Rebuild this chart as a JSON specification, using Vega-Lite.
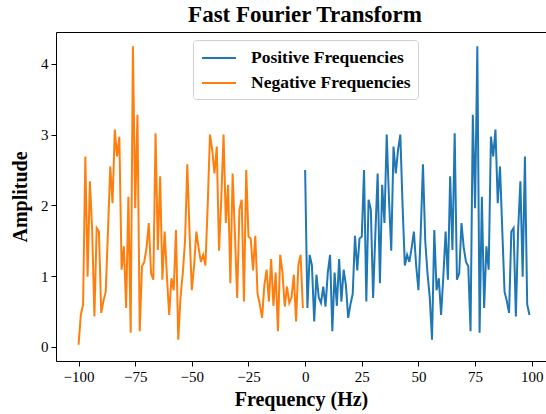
{
  "$schema": "https://vega.github.io/schema/vega-lite/v6.json",
  "width": 490,
  "height": 329,
  "autosize": {"type": "none"},
  "padding": {"left": 56, "top": 32, "right": 0, "bottom": 53},
  "background": "white",
  "title": {"text": "Fast Fourier Transform", "font": "Liberation Serif", "fontSize": 23, "fontWeight": "bold", "color": "black", "anchor": "middle", "offset": 5, "dx": 4},
  "config": {
    "view": {"stroke": null},
    "axis": {"labelFont": "Liberation Serif", "labelFontSize": 15, "labelColor": "black", "tickColor": "black", "domainColor": "black", "tickSize": 5, "labelPadding": 3, "titleFont": "Liberation Serif", "titleFontSize": 20, "titleFontWeight": "bold", "titleColor": "black", "grid": false, "domainWidth": 1}
  },
  "data": {"values": [
    {"f":0,"a":2.5,"s":"Positive Frequencies"},{"f":1,"a":0.55,"s":"Positive Frequencies"},{"f":2,"a":1.3,"s":"Positive Frequencies"},{"f":3,"a":1.15,"s":"Positive Frequencies"},{"f":4,"a":0.36,"s":"Positive Frequencies"},{"f":5,"a":1.02,"s":"Positive Frequencies"},{"f":6,"a":0.7,"s":"Positive Frequencies"},{"f":7,"a":0.62,"s":"Positive Frequencies"},{"f":8,"a":0.85,"s":"Positive Frequencies"},{"f":9,"a":0.57,"s":"Positive Frequencies"},
    {"f":10,"a":1.05,"s":"Positive Frequencies"},{"f":11,"a":1.3,"s":"Positive Frequencies"},{"f":12,"a":0.22,"s":"Positive Frequencies"},{"f":13,"a":1.05,"s":"Positive Frequencies"},{"f":14,"a":0.58,"s":"Positive Frequencies"},{"f":15,"a":1.24,"s":"Positive Frequencies"},{"f":16,"a":0.64,"s":"Positive Frequencies"},{"f":17,"a":1.09,"s":"Positive Frequencies"},{"f":18,"a":0.87,"s":"Positive Frequencies"},{"f":19,"a":0.41,"s":"Positive Frequencies"},
    {"f":20,"a":0.6,"s":"Positive Frequencies"},{"f":21,"a":0.75,"s":"Positive Frequencies"},{"f":22,"a":1.57,"s":"Positive Frequencies"},{"f":23,"a":1.08,"s":"Positive Frequencies"},{"f":24,"a":1.53,"s":"Positive Frequencies"},{"f":25,"a":1.56,"s":"Positive Frequencies"},{"f":26,"a":2.5,"s":"Positive Frequencies"},{"f":27,"a":0.64,"s":"Positive Frequencies"},{"f":28,"a":2.08,"s":"Positive Frequencies"},{"f":29,"a":1.94,"s":"Positive Frequencies"},
    {"f":30,"a":0.69,"s":"Positive Frequencies"},{"f":31,"a":1.6,"s":"Positive Frequencies"},{"f":32,"a":2.45,"s":"Positive Frequencies"},{"f":33,"a":0.9,"s":"Positive Frequencies"},{"f":34,"a":2.29,"s":"Positive Frequencies"},{"f":35,"a":1.75,"s":"Positive Frequencies"},{"f":36,"a":3.0,"s":"Positive Frequencies"},{"f":37,"a":2.1,"s":"Positive Frequencies"},{"f":38,"a":1.36,"s":"Positive Frequencies"},{"f":39,"a":2.83,"s":"Positive Frequencies"},
    {"f":40,"a":2.45,"s":"Positive Frequencies"},{"f":41,"a":2.78,"s":"Positive Frequencies"},{"f":42,"a":3.0,"s":"Positive Frequencies"},{"f":43,"a":2.0,"s":"Positive Frequencies"},{"f":44,"a":1.15,"s":"Positive Frequencies"},{"f":45,"a":1.3,"s":"Positive Frequencies"},{"f":46,"a":1.2,"s":"Positive Frequencies"},{"f":47,"a":1.4,"s":"Positive Frequencies"},{"f":48,"a":1.63,"s":"Positive Frequencies"},{"f":49,"a":1.15,"s":"Positive Frequencies"},
    {"f":50,"a":0.8,"s":"Positive Frequencies"},{"f":51,"a":1.6,"s":"Positive Frequencies"},{"f":52,"a":2.58,"s":"Positive Frequencies"},{"f":53,"a":1.5,"s":"Positive Frequencies"},{"f":54,"a":1.04,"s":"Positive Frequencies"},{"f":55,"a":0.7,"s":"Positive Frequencies"},{"f":56,"a":0.1,"s":"Positive Frequencies"},{"f":57,"a":1.65,"s":"Positive Frequencies"},{"f":58,"a":0.8,"s":"Positive Frequencies"},{"f":59,"a":0.97,"s":"Positive Frequencies"},
    {"f":60,"a":0.45,"s":"Positive Frequencies"},{"f":61,"a":1.0,"s":"Positive Frequencies"},{"f":62,"a":1.63,"s":"Positive Frequencies"},{"f":63,"a":0.95,"s":"Positive Frequencies"},{"f":64,"a":2.41,"s":"Positive Frequencies"},{"f":65,"a":1.37,"s":"Positive Frequencies"},{"f":66,"a":3.02,"s":"Positive Frequencies"},{"f":67,"a":0.95,"s":"Positive Frequencies"},{"f":68,"a":1.04,"s":"Positive Frequencies"},{"f":69,"a":1.75,"s":"Positive Frequencies"},
    {"f":70,"a":1.4,"s":"Positive Frequencies"},{"f":71,"a":1.2,"s":"Positive Frequencies"},{"f":72,"a":1.14,"s":"Positive Frequencies"},{"f":73,"a":0.22,"s":"Positive Frequencies"},{"f":74,"a":3.28,"s":"Positive Frequencies"},{"f":75,"a":1.96,"s":"Positive Frequencies"},{"f":76,"a":4.25,"s":"Positive Frequencies"},{"f":77,"a":0.2,"s":"Positive Frequencies"},{"f":78,"a":2.12,"s":"Positive Frequencies"},{"f":79,"a":0.55,"s":"Positive Frequencies"},
    {"f":80,"a":1.42,"s":"Positive Frequencies"},{"f":81,"a":1.09,"s":"Positive Frequencies"},{"f":82,"a":2.97,"s":"Positive Frequencies"},{"f":83,"a":2.69,"s":"Positive Frequencies"},{"f":84,"a":3.07,"s":"Positive Frequencies"},{"f":85,"a":2.03,"s":"Positive Frequencies"},{"f":86,"a":2.55,"s":"Positive Frequencies"},{"f":87,"a":1.65,"s":"Positive Frequencies"},{"f":88,"a":0.78,"s":"Positive Frequencies"},{"f":89,"a":0.65,"s":"Positive Frequencies"},
    {"f":90,"a":0.48,"s":"Positive Frequencies"},{"f":91,"a":1.63,"s":"Positive Frequencies"},{"f":92,"a":1.68,"s":"Positive Frequencies"},{"f":93,"a":0.43,"s":"Positive Frequencies"},{"f":94,"a":1.65,"s":"Positive Frequencies"},{"f":95,"a":2.34,"s":"Positive Frequencies"},{"f":96,"a":0.99,"s":"Positive Frequencies"},{"f":97,"a":2.69,"s":"Positive Frequencies"},{"f":98,"a":0.6,"s":"Positive Frequencies"},{"f":99,"a":0.45,"s":"Positive Frequencies"},
    {"f":-100,"a":0.03,"s":"Negative Frequencies"},{"f":-99,"a":0.45,"s":"Negative Frequencies"},{"f":-98,"a":0.6,"s":"Negative Frequencies"},{"f":-97,"a":2.69,"s":"Negative Frequencies"},{"f":-96,"a":0.99,"s":"Negative Frequencies"},{"f":-95,"a":2.34,"s":"Negative Frequencies"},{"f":-94,"a":1.65,"s":"Negative Frequencies"},{"f":-93,"a":0.43,"s":"Negative Frequencies"},{"f":-92,"a":1.68,"s":"Negative Frequencies"},{"f":-91,"a":1.63,"s":"Negative Frequencies"},
    {"f":-90,"a":0.48,"s":"Negative Frequencies"},{"f":-89,"a":0.65,"s":"Negative Frequencies"},{"f":-88,"a":0.78,"s":"Negative Frequencies"},{"f":-87,"a":1.65,"s":"Negative Frequencies"},{"f":-86,"a":2.55,"s":"Negative Frequencies"},{"f":-85,"a":2.03,"s":"Negative Frequencies"},{"f":-84,"a":3.07,"s":"Negative Frequencies"},{"f":-83,"a":2.69,"s":"Negative Frequencies"},{"f":-82,"a":2.97,"s":"Negative Frequencies"},{"f":-81,"a":1.09,"s":"Negative Frequencies"},
    {"f":-80,"a":1.42,"s":"Negative Frequencies"},{"f":-79,"a":0.55,"s":"Negative Frequencies"},{"f":-78,"a":2.12,"s":"Negative Frequencies"},{"f":-77,"a":0.2,"s":"Negative Frequencies"},{"f":-76,"a":4.25,"s":"Negative Frequencies"},{"f":-75,"a":1.96,"s":"Negative Frequencies"},{"f":-74,"a":3.28,"s":"Negative Frequencies"},{"f":-73,"a":0.22,"s":"Negative Frequencies"},{"f":-72,"a":1.14,"s":"Negative Frequencies"},{"f":-71,"a":1.2,"s":"Negative Frequencies"},
    {"f":-70,"a":1.4,"s":"Negative Frequencies"},{"f":-69,"a":1.75,"s":"Negative Frequencies"},{"f":-68,"a":1.04,"s":"Negative Frequencies"},{"f":-67,"a":0.95,"s":"Negative Frequencies"},{"f":-66,"a":3.02,"s":"Negative Frequencies"},{"f":-65,"a":1.37,"s":"Negative Frequencies"},{"f":-64,"a":2.41,"s":"Negative Frequencies"},{"f":-63,"a":0.95,"s":"Negative Frequencies"},{"f":-62,"a":1.63,"s":"Negative Frequencies"},{"f":-61,"a":1.0,"s":"Negative Frequencies"},
    {"f":-60,"a":0.45,"s":"Negative Frequencies"},{"f":-59,"a":0.97,"s":"Negative Frequencies"},{"f":-58,"a":0.8,"s":"Negative Frequencies"},{"f":-57,"a":1.65,"s":"Negative Frequencies"},{"f":-56,"a":0.1,"s":"Negative Frequencies"},{"f":-55,"a":0.7,"s":"Negative Frequencies"},{"f":-54,"a":1.04,"s":"Negative Frequencies"},{"f":-53,"a":1.5,"s":"Negative Frequencies"},{"f":-52,"a":2.58,"s":"Negative Frequencies"},{"f":-51,"a":1.6,"s":"Negative Frequencies"},
    {"f":-50,"a":0.8,"s":"Negative Frequencies"},{"f":-49,"a":1.15,"s":"Negative Frequencies"},{"f":-48,"a":1.63,"s":"Negative Frequencies"},{"f":-47,"a":1.4,"s":"Negative Frequencies"},{"f":-46,"a":1.2,"s":"Negative Frequencies"},{"f":-45,"a":1.3,"s":"Negative Frequencies"},{"f":-44,"a":1.15,"s":"Negative Frequencies"},{"f":-43,"a":2.0,"s":"Negative Frequencies"},{"f":-42,"a":3.0,"s":"Negative Frequencies"},{"f":-41,"a":2.78,"s":"Negative Frequencies"},
    {"f":-40,"a":2.45,"s":"Negative Frequencies"},{"f":-39,"a":2.83,"s":"Negative Frequencies"},{"f":-38,"a":1.36,"s":"Negative Frequencies"},{"f":-37,"a":2.1,"s":"Negative Frequencies"},{"f":-36,"a":3.0,"s":"Negative Frequencies"},{"f":-35,"a":1.75,"s":"Negative Frequencies"},{"f":-34,"a":2.29,"s":"Negative Frequencies"},{"f":-33,"a":0.9,"s":"Negative Frequencies"},{"f":-32,"a":2.45,"s":"Negative Frequencies"},{"f":-31,"a":1.6,"s":"Negative Frequencies"},
    {"f":-30,"a":0.69,"s":"Negative Frequencies"},{"f":-29,"a":1.94,"s":"Negative Frequencies"},{"f":-28,"a":2.08,"s":"Negative Frequencies"},{"f":-27,"a":0.64,"s":"Negative Frequencies"},{"f":-26,"a":2.5,"s":"Negative Frequencies"},{"f":-25,"a":1.56,"s":"Negative Frequencies"},{"f":-24,"a":1.53,"s":"Negative Frequencies"},{"f":-23,"a":1.08,"s":"Negative Frequencies"},{"f":-22,"a":1.57,"s":"Negative Frequencies"},{"f":-21,"a":0.75,"s":"Negative Frequencies"},
    {"f":-20,"a":0.6,"s":"Negative Frequencies"},{"f":-19,"a":0.41,"s":"Negative Frequencies"},{"f":-18,"a":0.87,"s":"Negative Frequencies"},{"f":-17,"a":1.09,"s":"Negative Frequencies"},{"f":-16,"a":0.64,"s":"Negative Frequencies"},{"f":-15,"a":1.24,"s":"Negative Frequencies"},{"f":-14,"a":0.58,"s":"Negative Frequencies"},{"f":-13,"a":1.05,"s":"Negative Frequencies"},{"f":-12,"a":0.22,"s":"Negative Frequencies"},{"f":-11,"a":1.3,"s":"Negative Frequencies"},
    {"f":-10,"a":1.05,"s":"Negative Frequencies"},{"f":-9,"a":0.57,"s":"Negative Frequencies"},{"f":-8,"a":0.85,"s":"Negative Frequencies"},{"f":-7,"a":0.62,"s":"Negative Frequencies"},{"f":-6,"a":0.7,"s":"Negative Frequencies"},{"f":-5,"a":1.02,"s":"Negative Frequencies"},{"f":-4,"a":0.36,"s":"Negative Frequencies"},{"f":-3,"a":1.15,"s":"Negative Frequencies"},{"f":-2,"a":1.3,"s":"Negative Frequencies"},{"f":-1,"a":0.55,"s":"Negative Frequencies"}
  ]},
  "layer": [
    {
      "mark": {"type": "line", "strokeWidth": 2, "clip": true},
      "encoding": {
        "x": {"field": "f", "type": "quantitative", "scale": {"domain": [-109.95, 106.3], "nice": false, "zero": false},
              "axis": {"values": [-100, -75, -50, -25, 0, 25, 50, 75, 100], "title": "Frequency (Hz)", "titlePadding": 5, "labelFont": "Liberation Serif", "titleFont": "Liberation Serif"}},
        "y": {"field": "a", "type": "quantitative", "scale": {"domain": [-0.2, 4.45], "nice": false, "zero": false},
              "axis": {"values": [0, 1, 2, 3, 4], "title": "Amplitude", "titlePadding": 10, "labelFont": "Liberation Serif", "titleFont": "Liberation Serif"}},
        "color": {"field": "s", "type": "nominal",
                  "scale": {"domain": ["Positive Frequencies", "Negative Frequencies"], "range": ["#1f77b4", "#ff7f0e"]},
                  "legend": {"orient": "none", "legendX": 137, "legendY": 8, "title": null, "symbolType": "M-0.9,0H2.5", "symbolStrokeWidth": 2, "symbolSize": 400, "labelFont": "Liberation Serif", "labelFontSize": 17.5, "labelFontWeight": "bold", "labelColor": "black", "fillColor": "white", "strokeColor": "#d0d0d0", "cornerRadius": 3, "padding": 7, "rowPadding": 5, "labelOffset": 29}}
      }
    },
    {
      "mark": {"type": "rule", "opacity": 0},
      "encoding": {
        "x": {"field": "f", "type": "quantitative", "axis": {"orient": "top", "labels": false, "ticks": false, "title": null, "domain": true}}
      }
    }
  ],
  "resolve": {"axis": {"x": "independent"}}
}
